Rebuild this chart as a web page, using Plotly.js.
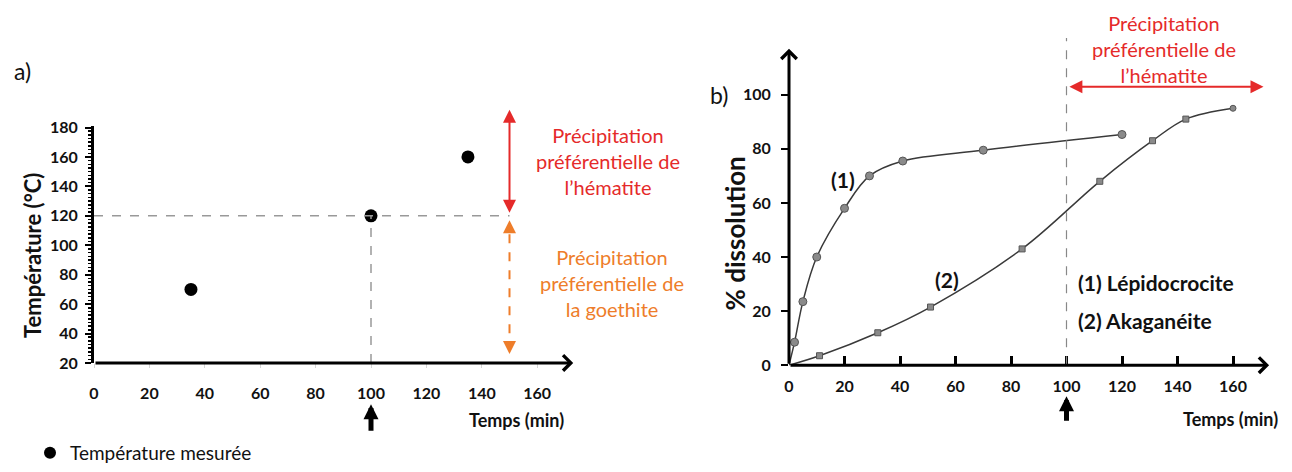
<!DOCTYPE html>
<html><head><meta charset="utf-8">
<script src="https://cdn.plot.ly/plotly-3.0.1.min.js"></script>
<style>html,body{margin:0;padding:0;background:#fff}</style>
</head><body>
<div id="chart" style="width:1292px;height:472px"></div>
<script>
// ---- (a) Température mesurée ----
const tempsA = [35, 100, 135];
const temperatureA = [70, 120, 160];
const ticksAx = [0, 20, 40, 60, 80, 100, 120, 140, 160];
const ticksAy = [20, 40, 60, 80, 100, 120, 140, 160, 180];
// ---- (b) % dissolution ----
const lepTemps = [2, 5, 10, 20, 29, 41, 70, 120];
const lepDissolution = [8.5, 23.5, 40, 58, 70, 75.5, 79.5, 85.3];
const akaTemps = [11, 32, 51, 84, 112, 131, 143, 160];
const akaDissolution = [3.5, 12, 21.5, 43, 68, 83, 91, 95];
const ticksBx = [0, 20, 40, 60, 80, 100, 120, 140, 160];
const ticksBy = [0, 20, 40, 60, 80, 100];
// reference values
const seuilTemps = 100;        // min
const seuilTemperature = 120;  // °C
const domaineMax = 192;        // haut de la flèche rouge (°C)
const domaineMin = 26;         // bas de la flèche orange (°C)
const flecheX = 150;           // position des flèches (min)
const hematiteB = [100.5, 171];// étendue de la flèche rouge (b)

const W = 1292, H = 472;
const px = p => p / W;
const py = p => 1 - p / H;

const FONT = 'Lato, "Open Sans", sans-serif';
const RED = '#e52a2a', ORANGE = '#ee7d2a', INK = '#111';
const tickFont = {family: FONT, size: 16, color: INK, weight: 'bold'};

const traces = [
  {x: tempsA, y: temperatureA, type: 'scatter', mode: 'markers', name: 'Température mesurée',
   marker: {color: '#000', size: 13}, xaxis: 'x', yaxis: 'y', cliponaxis: false, showlegend: true},
  {x: [0].concat(lepTemps), y: [0].concat(lepDissolution), type: 'scatter', mode: 'lines',
   line: {color: '#3a3a3a', width: 1.5, shape: 'spline', smoothing: 1}, xaxis: 'x2', yaxis: 'y2',
   showlegend: false, hoverinfo: 'skip', cliponaxis: false},
  {x: lepTemps, y: lepDissolution, type: 'scatter', mode: 'markers', name: '(1) Lépidocrocite',
   marker: {color: '#8a8a8a', size: 8, symbol: 'circle', line: {color: '#555', width: 1}},
   xaxis: 'x2', yaxis: 'y2', showlegend: false, cliponaxis: false},
  {x: [0].concat(akaTemps), y: [0].concat(akaDissolution), type: 'scatter', mode: 'lines',
   line: {color: '#3a3a3a', width: 1.5, shape: 'spline', smoothing: 1}, xaxis: 'x2', yaxis: 'y2',
   showlegend: false, hoverinfo: 'skip', cliponaxis: false},
  {x: akaTemps, y: akaDissolution, type: 'scatter', mode: 'markers', name: '(2) Akaganéite',
   marker: {color: '#8a8a8a', size: 6,
            symbol: akaTemps.map((t, i) => i === akaTemps.length - 1 ? 'circle' : 'square'),
            line: {color: '#555', width: 1}},
   xaxis: 'x2', yaxis: 'y2', showlegend: false, cliponaxis: false}
];

const axArrow = (xr, yr, x, y, ax, ay) => ({xref: xr, yref: yr, axref: xr, ayref: yr, x, y, ax, ay,
  text: '', showarrow: true, arrowhead: 4, arrowsize: 1, arrowwidth: 3, arrowcolor: '#000', standoff: 0, startstandoff: 0});

const annotations = [
  // axes
  axArrow('x', 'y', 173, ticksAy[0], 0, ticksAy[0]),
  axArrow('x2', 'y2', 173, 0, 0, 0),
  axArrow('x2', 'y2', 0, 117, 0, 0),
  // (a) domain arrows
  {xref: 'x', yref: 'y', axref: 'x', ayref: 'y', x: flecheX, y: domaineMax, ax: flecheX, ay: seuilTemperature + 1,
   text: '', showarrow: true, arrowside: 'end+start', arrowhead: 2, arrowsize: 1.3, arrowwidth: 2, arrowcolor: RED},
  {xref: 'x', yref: 'y', axref: 'x', ayref: 'y', x: flecheX, y: seuilTemperature - 3, ax: flecheX, ay: seuilTemperature - 9,
   text: '', showarrow: true, arrowhead: 2, arrowsize: 1.3, arrowwidth: 2, arrowcolor: ORANGE},
  {xref: 'x', yref: 'y', axref: 'x', ayref: 'y', x: flecheX, y: domaineMin, ax: flecheX, ay: domaineMin + 6,
   text: '', showarrow: true, arrowhead: 2, arrowsize: 1.3, arrowwidth: 2, arrowcolor: ORANGE},
  // (b) domain arrow
  {xref: 'x2', yref: 'y2', axref: 'x2', ayref: 'y2', x: hematiteB[1], y: 103, ax: hematiteB[0], ay: 103,
   text: '', showarrow: true, arrowside: 'end+start', arrowhead: 2, arrowsize: 1.3, arrowwidth: 2, arrowcolor: RED},
  // black arrows under t = 100 min
  {xref: 'x', yref: 'paper', x: seuilTemps, y: py(412), ax: 0, ay: 28, text: '', showarrow: true,
   arrowhead: 2, arrowsize: 0.6, arrowwidth: 5, arrowcolor: '#000'},
  {xref: 'x2', yref: 'paper', x: seuilTemps, y: py(404), ax: 0, ay: 26, text: '', showarrow: true,
   arrowhead: 2, arrowsize: 0.6, arrowwidth: 5, arrowcolor: '#000'},
  // axis titles
  {xref: 'paper', yref: 'paper', x: px(32), y: py(261), xanchor: 'center', yanchor: 'middle', showarrow: false,
   textangle: -90, text: 'Température (°C)', font: {family: FONT, size: 22, color: INK, weight: 'bold'}},
  {xref: 'paper', yref: 'paper', x: px(735), y: py(238), xanchor: 'center', yanchor: 'middle', showarrow: false,
   textangle: -90, text: '% dissolution', font: {family: FONT, size: 26, color: INK, weight: 'bold'}},
  {xref: 'paper', yref: 'paper', x: px(516), y: py(428), xanchor: 'center', yanchor: 'middle', showarrow: false,
   text: 'Temps (min)', font: {family: FONT, size: 18, color: INK, weight: 'bold'}},
  {xref: 'paper', yref: 'paper', x: px(1230), y: py(427), xanchor: 'center', yanchor: 'middle', showarrow: false,
   text: 'Temps (min)', font: {family: FONT, size: 18, color: INK, weight: 'bold'}},
  // panel letters
  {xref: 'paper', yref: 'paper', x: px(12), y: py(72), xanchor: 'left', yanchor: 'middle', showarrow: false,
   text: 'a)', font: {family: FONT, size: 23, color: INK}},
  {xref: 'paper', yref: 'paper', x: px(708), y: py(97), xanchor: 'left', yanchor: 'middle', showarrow: false,
   text: 'b)', font: {family: FONT, size: 23, color: INK}},
  // domain texts
  {xref: 'paper', yref: 'paper', x: px(608), y: py(164), xanchor: 'center', yanchor: 'middle', showarrow: false,
   text: 'Précipitation<br>préférentielle de<br>l’hématite', font: {family: FONT, size: 20, color: RED}},
  {xref: 'paper', yref: 'paper', x: px(612), y: py(289), xanchor: 'center', yanchor: 'middle', showarrow: false,
   text: 'Précipitation<br>préférentielle de<br>la goethite', font: {family: FONT, size: 20, color: ORANGE}},
  {xref: 'paper', yref: 'paper', x: px(1164), y: py(50), xanchor: 'center', yanchor: 'middle', showarrow: false,
   text: 'Précipitation<br>préférentielle de<br>l’hématite', font: {family: FONT, size: 20, color: RED}},
  // curve labels
  {xref: 'x2', yref: 'y2', x: 19.5, y: 68.7, xanchor: 'center', yanchor: 'middle', showarrow: false,
   text: '(1)', font: {family: FONT, size: 21, color: INK, weight: 'bold'}},
  {xref: 'x2', yref: 'y2', x: 57, y: 31.7, xanchor: 'center', yanchor: 'middle', showarrow: false,
   text: '(2)', font: {family: FONT, size: 21, color: INK, weight: 'bold'}},
  {xref: 'x2', yref: 'y2', x: 103.5, y: 30.6, xanchor: 'left', yanchor: 'middle', showarrow: false,
   text: '(1) Lépidocrocite', font: {family: FONT, size: 21, color: INK, weight: 'bold'}},
  {xref: 'x2', yref: 'y2', x: 103.5, y: 16.6, xanchor: 'left', yanchor: 'middle', showarrow: false,
   text: '(2) Akaganéite', font: {family: FONT, size: 21, color: INK, weight: 'bold'}}
];

const dashGray = {color: '#999', width: 1.5, dash: 'dash'};
const shapes = [
  {type: 'line', xref: 'x', yref: 'y', x0: 0, x1: flecheX, y0: seuilTemperature, y1: seuilTemperature, line: dashGray},
  {type: 'line', xref: 'x', yref: 'y', x0: seuilTemps, x1: seuilTemps, y0: ticksAy[0], y1: seuilTemperature, line: dashGray},
  {type: 'line', xref: 'x', yref: 'y', x0: flecheX, x1: flecheX, y0: domaineMin + 2, y1: seuilTemperature - 5,
   line: {color: ORANGE, width: 2, dash: 'dash'}},
  {type: 'line', xref: 'x2', yref: 'y2', x0: seuilTemps, x1: seuilTemps, y0: 0, y1: 121,
   line: {color: '#888', width: 1.2, dash: 'dash'}}
];

const layout = {
  width: W, height: H, margin: {l: 0, r: 0, t: 0, b: 0},
  paper_bgcolor: '#fff', plot_bgcolor: 'rgba(0,0,0,0)',
  font: {family: FONT, color: INK},
  showlegend: true,
  legend: {x: px(30), y: py(462), xanchor: 'left', yanchor: 'middle', itemsizing: 'constant',
           font: {family: FONT, size: 19, color: INK}, bgcolor: 'rgba(0,0,0,0)', borderwidth: 0},
  xaxis: {domain: [px(94), px(94 + 172 * 2.77)], range: [0, 172], anchor: 'y',
          tickmode: 'array', tickvals: ticksAx, ticks: 'outside', ticklen: 4, tickwidth: 1, tickcolor: '#d5d5d5',
          showline: false, zeroline: false, showgrid: false, tickfont: tickFont, ticklabelstandoff: 12,
          automargin: false, fixedrange: true},
  yaxis: {domain: [py(370), py(370 - 161 * 1.5)], range: [20, 181], anchor: 'x',
          tickmode: 'array', tickvals: ticksAy, ticks: 'outside', ticklen: 6, tickwidth: 2, tickcolor: '#000',
          minor: {dtick: 2.5, ticks: 'outside', ticklen: 3, tickwidth: 1.5, tickcolor: '#000'},
          showline: true, linewidth: 3, linecolor: '#000', zeroline: false, showgrid: false,
          tickfont: tickFont, ticklabelstandoff: 4, automargin: false, fixedrange: true},
  xaxis2: {domain: [px(789), px(789 + 172 * 2.775)], range: [0, 172], anchor: 'y2',
           tickmode: 'array', tickvals: ticksBx, ticks: 'inside', ticklen: 9, tickwidth: 3, tickcolor: '#000',
           showline: false, zeroline: false, showgrid: false, tickfont: tickFont, ticklabelstandoff: 10,
           automargin: false, fixedrange: true},
  yaxis2: {domain: [py(372.3), py(372.3 - 122 * 2.757)], range: [0, 122], anchor: 'x2',
           tickmode: 'array', tickvals: ticksBy, ticks: 'outside', ticklen: 7, tickwidth: 2, tickcolor: '#000',
           showline: false, zeroline: false, showgrid: false, tickfont: tickFont, ticklabelstandoff: 7,
           automargin: false, fixedrange: true},
  shapes, annotations
};

Plotly.newPlot('chart', traces, layout, {displayModeBar: false, staticPlot: true});
</script>
</body></html>
